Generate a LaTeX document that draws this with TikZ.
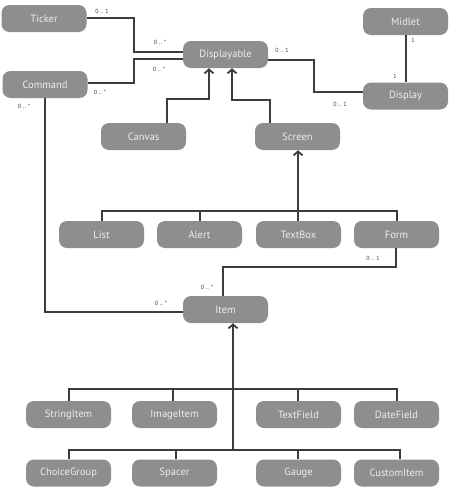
\documentclass[tikz,border=0pt]{standalone}
\usepackage{fontspec}
\setmainfont{PT Sans}
\usetikzlibrary{arrows.meta}
\definecolor{boxfill}{HTML}{8E8E8E}
\definecolor{boxtext}{HTML}{EDEDED}
\definecolor{linec}{HTML}{3C3C3C}
\begin{document}
\begin{tikzpicture}[x=1pt,y=-1pt,
  cls/.style={draw=none,fill=boxfill,rounded corners=8pt,minimum width=85pt,minimum height=27pt,inner sep=0pt,text=boxtext,font=\fontsize{10.5}{12}\selectfont},
  conn/.style={draw=linec,line width=2pt},
  inh/.style={conn,-{Straight Barb[length=4pt,width=9pt,line width=1.8pt]}},
  mult/.style={font=\fontsize{6}{7}\selectfont,text=linec,inner sep=0pt}]
\useasboundingbox (0,0) rectangle (450,490);
\fill[white] (0,0) rectangle (450,490);
% nodes
\node[cls] (ticker) at (44,18.5) {Ticker};
\node[cls] (command) at (45,84.5) {Command};
\node[cls] (displayable) at (225.5,54.5) {Displayable};
\node[cls] (midlet) at (405.5,21.5) {Midlet};
\node[cls] (display) at (405.5,96) {Display};
\node[cls] (canvas) at (143.5,136.5) {Canvas};
\node[cls] (screen) at (297.5,136.5) {Screen};
\node[cls] (list) at (101.5,234.5) {List};
\node[cls] (alert) at (199.5,234.5) {Alert};
\node[cls] (textbox) at (298.5,234.5) {TextBox};
\node[cls] (form) at (396.5,234.5) {Form};
\node[cls] (item) at (225.5,309.5) {Item};
\node[cls] (stringitem) at (68.5,414.5) {StringItem};
\node[cls] (imageitem) at (174.5,414.5) {ImageItem};
\node[cls] (textfield) at (298.5,414.5) {TextField};
\node[cls] (datefield) at (396.5,414.5) {DateField};
\node[cls] (choicegroup) at (68.5,473) {ChoiceGroup};
\node[cls] (spacer) at (174.5,473) {Spacer};
\node[cls] (gauge) at (298.5,473) {Gauge};
\node[cls] (customitem) at (396.5,473) {CustomItem};
% coordinates
\coordinate (sbus) at (298,211);
\coordinate (ib1) at (233,389);
\coordinate (ib2) at (233,450);
% associations
\draw[conn] (ticker.east |- 0,18) -- (134,18) -- (134,52) -- (displayable.west |- 0,52);
\draw[conn] (command.east |- 0,83) -- (134,83) -- (134,59) -- (displayable.west |- 0,59);
\draw[conn] (displayable.east |- 0,60) -- (314,60) -- (314,92) -- (display.west |- 0,92);
\draw[conn] (midlet.south) -- (display.north);
\draw[conn] (form.south -| 396,0) -- (396,267) -- (223,267) -- (item.north -| 223,0);
\draw[conn] (command.south) -- (45,312) -- (item.west |- 0,312);
% multiplicities
\node[mult] at (102,11) {0 .. 1};
\node[mult] at (160,42) {0 .. *};
\node[mult] at (159,69) {0 .. *};
\node[mult] at (100,92) {0 .. *};
\node[mult] at (24,106) {0 .. *};
\node[mult] at (282,50) {0 .. 1};
\node[mult] at (340,104) {0 .. 1};
\node[mult] at (413,40) {1};
\node[mult] at (395,76) {1};
\node[mult] at (373,258) {0 .. 1};
\node[mult] at (207,287) {0 .. *};
\node[mult] at (161,303) {0 .. *};
% inheritance
\draw[inh] (canvas.north -| 167,0) -- (167,99) -- (209,99) -- (displayable.south -| 209,0);
\draw[inh] (screen.north -| 270,0) -- (270,100) -- (232,100) -- (displayable.south -| 232,0);
\draw[conn] (list.north -| 102,0) -- (102,211) -- (397,211) -- (form.north -| 397,0);
\draw[conn] (alert.north -| 200,0) -- (200,211);
\draw[conn] (textbox.north -| 298,0) -- (sbus);
\draw[inh] (sbus) -- (screen.south -| 298,0);
\draw[inh] (ib2) -- (item.south -| 233,0);
\draw[conn] (stringitem.north -| 69,0) -- (69,389) -- (397,389) -- (datefield.north -| 397,0);
\draw[conn] (imageitem.north -| 173,0) -- (173,389);
\draw[conn] (textfield.north -| 298,0) -- (298,389);
\draw[conn] (choicegroup.north -| 69,0) -- (69,450) -- (400,450) -- (customitem.north -| 400,0);
\draw[conn] (spacer.north -| 176,0) -- (176,450);
\draw[conn] (gauge.north -| 298,0) -- (298,450);
\end{tikzpicture}
\end{document}
